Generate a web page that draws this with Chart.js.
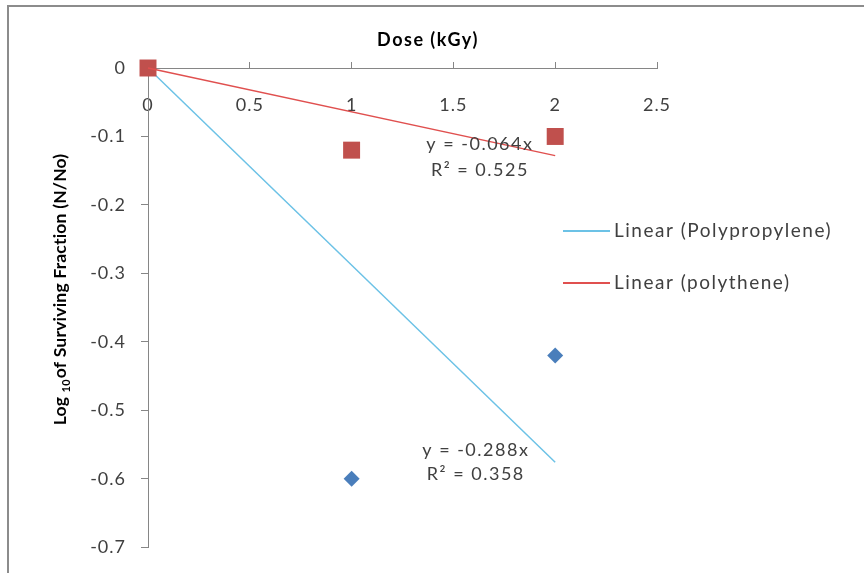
<!DOCTYPE html>
<html>
<head>
<meta charset="utf-8">
<script src="https://cdn.jsdelivr.net/npm/chart.js@4.4.0/dist/chart.umd.min.js"></script>
<style>
	html, body { margin: 0; padding: 0; background: #fff; }
	#wrap { width: 864px; height: 573px; position: relative; }
</style>
</head>
<body>
<div id="wrap"><canvas id="doseChart"></canvas></div>
<script>
// data
var doses = [0, 1, 2];
var polypropylene = [0, -0.6, -0.42];
var polythene = [0, -0.12, -0.1];
var trendDoses = [0, 2];
var polypropyleneTrend = [0, -0.576];
var polytheneTrend = [0, -0.128];
var xTickValues = [0, 0.5, 1, 1.5, 2, 2.5];
var yTickValues = [0, -0.1, -0.2, -0.3, -0.4, -0.5, -0.6, -0.7];
var legendLabels = ['Linear (Polypropylene)', 'Linear (polythene)'];
var polytheneEq = ['y = -0.064x', 'R\u00b2 = 0.525'];
var polypropyleneEq = ['y = -0.288x', 'R\u00b2 = 0.358'];

var colors = {
	pe: '#C0504D',
	peLine: '#E0504F',
	pp: '#4A7EBB',
	ppLine: '#6CC2E6',
	axis: '#868686',
	text: '#404040'
};

var toPoints = function(xs, ys) {
	return xs.map(function(x, i) { return { x: x, y: ys[i] }; });
};

// the source uses a wide font, so space the letters out a bit
var spacingPlugin = {
	id: 'spacing',
	beforeDraw: function(chart) {
		chart.ctx.letterSpacing = '1px';
	}
};

// frame, axis title with subscript, equations, legend
var extrasPlugin = {
	id: 'extras',
	afterDraw: function(chart) {
		var ctx = chart.ctx;
		var xs = chart.scales.x, ys = chart.scales.y;
		ctx.save();

		ctx.strokeStyle = '#8c8c8c';
		ctx.lineWidth = 2;
		ctx.strokeRect(8, 6, 900, 600);

		ctx.fillStyle = '#000';
		ctx.font = 'bold 18px Lato';
		ctx.letterSpacing = '1.5px';
		ctx.textAlign = 'center';
		ctx.textBaseline = 'middle';
		ctx.fillText('Dose (kGy)', 428, 40);

		// y title, rotated, with subscript 10
		ctx.save();
		ctx.letterSpacing = '0.2px';
		ctx.translate(60, 290);
		ctx.rotate(-Math.PI / 2);
		var p1 = 'Log ', p2 = '10', p3 = 'of Surviving Fraction (N/No)';
		ctx.font = 'bold 17.5px Lato';
		var w1 = ctx.measureText(p1).width, w3 = ctx.measureText(p3).width;
		ctx.font = 'bold 11px Lato';
		var w2 = ctx.measureText(p2).width;
		var start = -(w1 + w2 + w3) / 2;
		ctx.textAlign = 'left';
		ctx.textBaseline = 'alphabetic';
		ctx.font = 'bold 17.5px Lato';
		ctx.fillText(p1, start, 6);
		ctx.font = 'bold 11px Lato';
		ctx.fillText(p2, start + w1, 10);
		ctx.font = 'bold 17.5px Lato';
		ctx.fillText(p3, start + w1 + w2 + 1, 6);
		ctx.restore();

		// trendline equations
		ctx.fillStyle = colors.text;
		ctx.font = '18px Lato';
		ctx.letterSpacing = '1.5px';
		ctx.textAlign = 'center';
		ctx.textBaseline = 'middle';
		ctx.fillText(polytheneEq[0], xs.getPixelForValue(1.63), ys.getPixelForValue(-0.111));
		ctx.fillText(polytheneEq[1], xs.getPixelForValue(1.63), ys.getPixelForValue(-0.149));
		ctx.fillText(polypropyleneEq[0], xs.getPixelForValue(1.61), ys.getPixelForValue(-0.559));
		ctx.fillText(polypropyleneEq[1], xs.getPixelForValue(1.61), ys.getPixelForValue(-0.594));

		// legend
		var lineCols = [colors.ppLine, colors.peLine];
		legendLabels.forEach(function(lbl, i) {
			var y = 231 + i * 52;
			ctx.strokeStyle = lineCols[i];
			ctx.lineWidth = 2;
			ctx.beginPath();
			ctx.moveTo(563, y);
			ctx.lineTo(610, y);
			ctx.stroke();
			ctx.fillStyle = colors.text;
			ctx.textAlign = 'left';
			ctx.font = '19px Lato';
			ctx.letterSpacing = '1.5px';
			ctx.fillText(lbl, 614, y);
		});
		ctx.restore();
	}
};

Chart.defaults.font.family = 'Lato';
Chart.defaults.font.size = 18;
Chart.defaults.color = colors.text;

var doseChart = new Chart(document.getElementById('doseChart'), {
	type: 'scatter',
	data: {
		datasets: [{
			label: 'polythene',
			data: toPoints(doses, polythene),
			pointStyle: 'rect',
			pointRadius: 12,
			pointHoverRadius: 12,
			backgroundColor: colors.pe,
			borderColor: colors.pe,
			borderWidth: 0,
			clip: false,
			order: 1
		}, {
			label: 'Polypropylene',
			data: toPoints(doses, polypropylene),
			pointStyle: 'rectRot',
			pointRadius: 8,
			pointHoverRadius: 8,
			backgroundColor: colors.pp,
			borderColor: colors.pp,
			borderWidth: 0,
			clip: false,
			order: 2
		}, {
			type: 'line',
			label: 'Linear (polythene)',
			data: toPoints(trendDoses, polytheneTrend),
			borderColor: colors.peLine,
			borderWidth: 1.5,
			pointRadius: 0,
			fill: false,
			clip: false,
			order: 0
		}, {
			type: 'line',
			label: 'Linear (Polypropylene)',
			data: toPoints(trendDoses, polypropyleneTrend),
			borderColor: colors.ppLine,
			borderWidth: 1.5,
			pointRadius: 0,
			fill: false,
			clip: false,
			order: 3
		}]
	},
	options: {
		responsive: true,
		maintainAspectRatio: false,
		animation: false,
		layout: { padding: { top: 68, right: 207, bottom: 20, left: 0 } },
		plugins: {
			legend: { display: false },
			tooltip: { enabled: false }
		},
		scales: {
			x: {
				type: 'linear',
				position: { y: 0 },
				min: 0,
				max: 2.5,
				afterBuildTicks: function(scale) {
					scale.ticks = xTickValues.map(function(v) { return { value: v }; });
				},
				ticks: {
					padding: 33,
					color: colors.text,
					font: { size: 18 },
					callback: function(v) { return String(v); }
				},
				grid: { drawOnChartArea: false, tickLength: -7, color: colors.axis, tickColor: colors.axis },
				border: { color: colors.axis, width: 1 }
			},
			y: {
				type: 'linear',
				min: -0.7,
				max: 0,
				afterBuildTicks: function(scale) {
					scale.ticks = yTickValues.map(function(v) { return { value: v }; });
				},
				afterFit: function(scale) { scale.width = 148; },
				ticks: {
					padding: 15,
					color: colors.text,
					font: { size: 18 },
					callback: function(v) { return v === 0 ? '0' : v.toFixed(1); }
				},
				grid: { drawOnChartArea: false, tickLength: 7, color: colors.axis, tickColor: colors.axis },
				border: { color: colors.axis, width: 1 }
			}
		}
	},
	plugins: [spacingPlugin, extrasPlugin]
});
</script>
</body>
</html>
